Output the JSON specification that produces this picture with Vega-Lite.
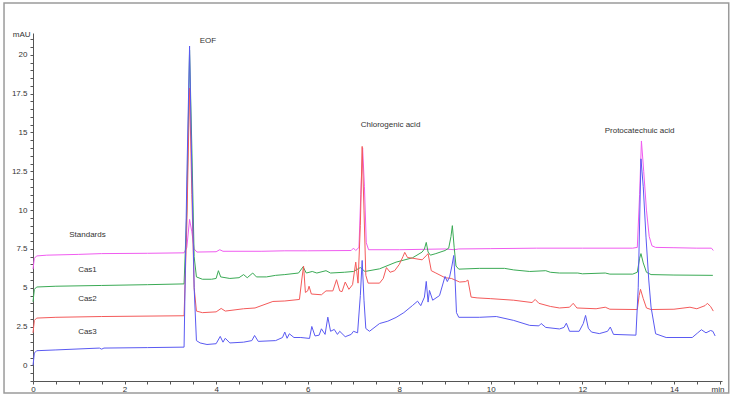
{
"$schema": "https://vega.github.io/schema/vega-lite/v6.json",
"width": 689, "height": 348,
"autosize": {"type": "none"},
"padding": {"left": 33, "top": 33, "right": 15, "bottom": 18},
"background": "white",
"config": {"view": {"stroke": null}, "font": "Liberation Sans"},
"datasets": {
"frame": [{"t": -0.633, "t2": 15.197, "v": -1.77, "v2": 23.33}],
"labels": [
{"txt": "EOF", "t": 3.82, "v": 20.9},
{"txt": "Chlorogenic acid", "t": 7.81, "v": 15.46},
{"txt": "Protocatechuic acid", "t": 13.25, "v": 15.09},
{"txt": "Standards", "t": 1.19, "v": 8.42},
{"txt": "Cas1", "t": 1.19, "v": 6.15},
{"txt": "Cas2", "t": 1.19, "v": 4.26},
{"txt": "Cas3", "t": 1.19, "v": 2.14}
],
"traces": [
{"s":"Standards","t":0,"v":6.2},{"s":"Standards","t":0.03,"v":6.9},{"s":"Standards","t":0.08,"v":7.05},{"s":"Standards","t":0.3,"v":7.1},{"s":"Standards","t":1,"v":7.15},{"s":"Standards","t":1.5,"v":7.2},{"s":"Standards","t":2.5,"v":7.22},{"s":"Standards","t":3.3,"v":7.25},{"s":"Standards","t":3.36,"v":7.6},{"s":"Standards","t":3.42,"v":9.4},{"s":"Standards","t":3.47,"v":8.6},{"s":"Standards","t":3.52,"v":7.5},{"s":"Standards","t":3.58,"v":7.3},{"s":"Standards","t":4.0,"v":7.32},{"s":"Standards","t":4.08,"v":7.45},{"s":"Standards","t":4.15,"v":7.35},{"s":"Standards","t":5.0,"v":7.35},{"s":"Standards","t":5.5,"v":7.38},{"s":"Standards","t":6.0,"v":7.38},{"s":"Standards","t":6.95,"v":7.4},{"s":"Standards","t":7.0,"v":7.55},{"s":"Standards","t":7.05,"v":7.4},{"s":"Standards","t":7.12,"v":7.6},{"s":"Standards","t":7.16,"v":11},{"s":"Standards","t":7.2,"v":14.0},{"s":"Standards","t":7.24,"v":11.5},{"s":"Standards","t":7.28,"v":7.9},{"s":"Standards","t":7.33,"v":7.45},{"s":"Standards","t":8.0,"v":7.45},{"s":"Standards","t":9.0,"v":7.5},{"s":"Standards","t":9.2,"v":7.45},{"s":"Standards","t":9.3,"v":7.5},{"s":"Standards","t":10,"v":7.52},{"s":"Standards","t":11,"v":7.55},{"s":"Standards","t":12,"v":7.55},{"s":"Standards","t":13.1,"v":7.55},{"s":"Standards","t":13.2,"v":7.6},{"s":"Standards","t":13.25,"v":11},{"s":"Standards","t":13.29,"v":14.45},{"s":"Standards","t":13.34,"v":12.5},{"s":"Standards","t":13.4,"v":10},{"s":"Standards","t":13.46,"v":8.3},{"s":"Standards","t":13.52,"v":7.7},{"s":"Standards","t":13.6,"v":7.6},{"s":"Standards","t":14,"v":7.58},{"s":"Standards","t":14.5,"v":7.55},{"s":"Standards","t":14.82,"v":7.55},{"s":"Standards","t":14.86,"v":7.4},

{"s":"Cas1","t":0,"v":4.1},{"s":"Cas1","t":0.03,"v":4.9},{"s":"Cas1","t":0.08,"v":5.05},{"s":"Cas1","t":0.5,"v":5.1},{"s":"Cas1","t":1.5,"v":5.15},{"s":"Cas1","t":2.5,"v":5.2},{"s":"Cas1","t":3.3,"v":5.25},{"s":"Cas1","t":3.36,"v":10},{"s":"Cas1","t":3.42,"v":20.3},{"s":"Cas1","t":3.47,"v":14},{"s":"Cas1","t":3.52,"v":7},{"s":"Cas1","t":3.57,"v":5.7},{"s":"Cas1","t":3.7,"v":5.55},{"s":"Cas1","t":3.9,"v":5.55},{"s":"Cas1","t":4.0,"v":5.6},{"s":"Cas1","t":4.05,"v":6.1},{"s":"Cas1","t":4.1,"v":5.7},{"s":"Cas1","t":4.3,"v":5.6},{"s":"Cas1","t":4.5,"v":5.65},{"s":"Cas1","t":4.6,"v":5.85},{"s":"Cas1","t":4.68,"v":5.65},{"s":"Cas1","t":4.8,"v":5.95},{"s":"Cas1","t":4.88,"v":5.7},{"s":"Cas1","t":5.1,"v":5.7},{"s":"Cas1","t":5.3,"v":5.8},{"s":"Cas1","t":5.5,"v":5.85},{"s":"Cas1","t":5.8,"v":5.95},{"s":"Cas1","t":5.9,"v":6.35},{"s":"Cas1","t":5.97,"v":5.95},{"s":"Cas1","t":6.1,"v":6.05},{"s":"Cas1","t":6.2,"v":5.95},{"s":"Cas1","t":6.4,"v":6.1},{"s":"Cas1","t":6.5,"v":5.95},{"s":"Cas1","t":6.8,"v":6.0},{"s":"Cas1","t":7.0,"v":6.05},{"s":"Cas1","t":7.15,"v":6.3},{"s":"Cas1","t":7.25,"v":6.05},{"s":"Cas1","t":7.57,"v":6.22},{"s":"Cas1","t":7.93,"v":6.65},{"s":"Cas1","t":8.29,"v":6.93},{"s":"Cas1","t":8.5,"v":7.3},{"s":"Cas1","t":8.55,"v":7.5},{"s":"Cas1","t":8.59,"v":7.92},{"s":"Cas1","t":8.63,"v":7.3},{"s":"Cas1","t":8.68,"v":7.1},{"s":"Cas1","t":8.8,"v":7.2},{"s":"Cas1","t":9.0,"v":7.4},{"s":"Cas1","t":9.08,"v":7.55},{"s":"Cas1","t":9.13,"v":8.3},{"s":"Cas1","t":9.16,"v":9.0},{"s":"Cas1","t":9.2,"v":7.6},{"s":"Cas1","t":9.24,"v":6.4},{"s":"Cas1","t":9.3,"v":6.2},{"s":"Cas1","t":9.75,"v":6.25},{"s":"Cas1","t":10.3,"v":6.25},{"s":"Cas1","t":10.5,"v":6.15},{"s":"Cas1","t":10.85,"v":6.05},{"s":"Cas1","t":11.2,"v":6.1},{"s":"Cas1","t":11.3,"v":6.0},{"s":"Cas1","t":11.5,"v":5.95},{"s":"Cas1","t":11.9,"v":5.95},{"s":"Cas1","t":12.0,"v":5.9},{"s":"Cas1","t":12.5,"v":5.95},{"s":"Cas1","t":12.6,"v":5.88},{"s":"Cas1","t":13.1,"v":5.88},{"s":"Cas1","t":13.2,"v":6.0},{"s":"Cas1","t":13.25,"v":6.9},{"s":"Cas1","t":13.28,"v":7.2},{"s":"Cas1","t":13.33,"v":6.6},{"s":"Cas1","t":13.4,"v":6.0},{"s":"Cas1","t":13.5,"v":5.85},{"s":"Cas1","t":14,"v":5.82},{"s":"Cas1","t":14.85,"v":5.8},

{"s":"Cas2","t":0,"v":2.1},{"s":"Cas2","t":0.03,"v":2.9},{"s":"Cas2","t":0.08,"v":3.05},{"s":"Cas2","t":0.5,"v":3.1},{"s":"Cas2","t":1.5,"v":3.15},{"s":"Cas2","t":3.3,"v":3.2},{"s":"Cas2","t":3.36,"v":9},{"s":"Cas2","t":3.42,"v":17.86},{"s":"Cas2","t":3.47,"v":11},{"s":"Cas2","t":3.52,"v":5},{"s":"Cas2","t":3.57,"v":3.5},{"s":"Cas2","t":3.7,"v":3.4},{"s":"Cas2","t":4.0,"v":3.45},{"s":"Cas2","t":4.11,"v":3.67},{"s":"Cas2","t":4.2,"v":3.5},{"s":"Cas2","t":4.6,"v":3.65},{"s":"Cas2","t":4.85,"v":3.7},{"s":"Cas2","t":5.24,"v":4.12},{"s":"Cas2","t":5.5,"v":4.15},{"s":"Cas2","t":5.82,"v":4.25},{"s":"Cas2","t":5.87,"v":5.5},{"s":"Cas2","t":5.91,"v":6.4},{"s":"Cas2","t":5.95,"v":4.7},{"s":"Cas2","t":6.0,"v":4.8},{"s":"Cas2","t":6.03,"v":5.1},{"s":"Cas2","t":6.08,"v":4.6},{"s":"Cas2","t":6.3,"v":4.55},{"s":"Cas2","t":6.4,"v":4.8},{"s":"Cas2","t":6.55,"v":4.8},{"s":"Cas2","t":6.63,"v":5.52},{"s":"Cas2","t":6.7,"v":4.8},{"s":"Cas2","t":6.75,"v":4.75},{"s":"Cas2","t":6.82,"v":5.37},{"s":"Cas2","t":6.9,"v":4.9},{"s":"Cas2","t":6.98,"v":5.2},{"s":"Cas2","t":7.05,"v":6.65},{"s":"Cas2","t":7.1,"v":5.3},{"s":"Cas2","t":7.15,"v":9},{"s":"Cas2","t":7.19,"v":14.1},{"s":"Cas2","t":7.23,"v":10},{"s":"Cas2","t":7.27,"v":5.8},{"s":"Cas2","t":7.32,"v":5.3},{"s":"Cas2","t":7.57,"v":5.3},{"s":"Cas2","t":7.65,"v":5.6},{"s":"Cas2","t":7.72,"v":6.3},{"s":"Cas2","t":7.8,"v":6.0},{"s":"Cas2","t":7.9,"v":6.1},{"s":"Cas2","t":8.0,"v":6.5},{"s":"Cas2","t":8.08,"v":7.0},{"s":"Cas2","t":8.12,"v":7.28},{"s":"Cas2","t":8.18,"v":6.95},{"s":"Cas2","t":8.3,"v":6.9},{"s":"Cas2","t":8.5,"v":6.8},{"s":"Cas2","t":8.6,"v":7.1},{"s":"Cas2","t":8.63,"v":7.2},{"s":"Cas2","t":8.7,"v":6.1},{"s":"Cas2","t":8.8,"v":5.95},{"s":"Cas2","t":9.0,"v":5.65},{"s":"Cas2","t":9.14,"v":5.6},{"s":"Cas2","t":9.32,"v":5.37},{"s":"Cas2","t":9.45,"v":5.4},{"s":"Cas2","t":9.5,"v":5.5},{"s":"Cas2","t":9.57,"v":4.4},{"s":"Cas2","t":9.7,"v":4.35},{"s":"Cas2","t":10,"v":4.3},{"s":"Cas2","t":10.5,"v":4.2},{"s":"Cas2","t":10.9,"v":4.05},{"s":"Cas2","t":10.97,"v":4.25},{"s":"Cas2","t":11.05,"v":4.0},{"s":"Cas2","t":11.3,"v":3.8},{"s":"Cas2","t":11.5,"v":3.7},{"s":"Cas2","t":11.72,"v":3.75},{"s":"Cas2","t":11.8,"v":4.0},{"s":"Cas2","t":11.88,"v":3.7},{"s":"Cas2","t":12.3,"v":3.65},{"s":"Cas2","t":12.5,"v":3.75},{"s":"Cas2","t":12.6,"v":3.62},{"s":"Cas2","t":13.2,"v":3.6},{"s":"Cas2","t":13.24,"v":4.5},{"s":"Cas2","t":13.27,"v":4.9},{"s":"Cas2","t":13.33,"v":4.3},{"s":"Cas2","t":13.4,"v":3.7},{"s":"Cas2","t":13.5,"v":3.6},{"s":"Cas2","t":14.0,"v":3.62},{"s":"Cas2","t":14.35,"v":3.75},{"s":"Cas2","t":14.5,"v":3.65},{"s":"Cas2","t":14.68,"v":3.85},{"s":"Cas2","t":14.73,"v":4.0},{"s":"Cas2","t":14.8,"v":3.8},{"s":"Cas2","t":14.86,"v":3.5},

{"s":"Cas3","t":0,"v":0.0},{"s":"Cas3","t":0.03,"v":0.8},{"s":"Cas3","t":0.08,"v":0.95},{"s":"Cas3","t":0.5,"v":1.0},{"s":"Cas3","t":1.45,"v":1.12},{"s":"Cas3","t":1.5,"v":1.05},{"s":"Cas3","t":1.55,"v":1.12},{"s":"Cas3","t":2.5,"v":1.15},{"s":"Cas3","t":3.3,"v":1.18},{"s":"Cas3","t":3.36,"v":12},{"s":"Cas3","t":3.42,"v":20.56},{"s":"Cas3","t":3.46,"v":14},{"s":"Cas3","t":3.52,"v":5},{"s":"Cas3","t":3.57,"v":1.6},{"s":"Cas3","t":3.65,"v":1.45},{"s":"Cas3","t":3.8,"v":1.35},{"s":"Cas3","t":4.0,"v":1.4},{"s":"Cas3","t":4.09,"v":1.87},{"s":"Cas3","t":4.15,"v":1.5},{"s":"Cas3","t":4.2,"v":1.75},{"s":"Cas3","t":4.3,"v":1.45},{"s":"Cas3","t":4.6,"v":1.5},{"s":"Cas3","t":4.78,"v":1.6},{"s":"Cas3","t":4.84,"v":1.93},{"s":"Cas3","t":4.92,"v":1.55},{"s":"Cas3","t":5.3,"v":1.6},{"s":"Cas3","t":5.45,"v":1.8},{"s":"Cas3","t":5.5,"v":2.15},{"s":"Cas3","t":5.55,"v":1.75},{"s":"Cas3","t":5.6,"v":2.04},{"s":"Cas3","t":5.7,"v":1.8},{"s":"Cas3","t":5.85,"v":1.8},{"s":"Cas3","t":6.04,"v":1.74},{"s":"Cas3","t":6.09,"v":2.51},{"s":"Cas3","t":6.16,"v":1.9},{"s":"Cas3","t":6.25,"v":1.95},{"s":"Cas3","t":6.3,"v":2.36},{"s":"Cas3","t":6.38,"v":2.0},{"s":"Cas3","t":6.44,"v":3.11},{"s":"Cas3","t":6.5,"v":2.2},{"s":"Cas3","t":6.58,"v":2.32},{"s":"Cas3","t":6.65,"v":2.0},{"s":"Cas3","t":6.7,"v":2.2},{"s":"Cas3","t":6.82,"v":1.85},{"s":"Cas3","t":6.95,"v":2.0},{"s":"Cas3","t":7.0,"v":2.2},{"s":"Cas3","t":7.09,"v":2.1},{"s":"Cas3","t":7.15,"v":4.5},{"s":"Cas3","t":7.19,"v":6.76},{"s":"Cas3","t":7.23,"v":4.2},{"s":"Cas3","t":7.27,"v":2.38},{"s":"Cas3","t":7.35,"v":2.2},{"s":"Cas3","t":7.57,"v":2.7},{"s":"Cas3","t":7.75,"v":2.85},{"s":"Cas3","t":7.93,"v":3.09},{"s":"Cas3","t":8.1,"v":3.4},{"s":"Cas3","t":8.29,"v":3.86},{"s":"Cas3","t":8.4,"v":4.14},{"s":"Cas3","t":8.47,"v":3.85},{"s":"Cas3","t":8.55,"v":4.4},{"s":"Cas3","t":8.59,"v":5.41},{"s":"Cas3","t":8.63,"v":4.08},{"s":"Cas3","t":8.66,"v":4.83},{"s":"Cas3","t":8.73,"v":4.2},{"s":"Cas3","t":8.88,"v":4.5},{"s":"Cas3","t":9.0,"v":5.73},{"s":"Cas3","t":9.05,"v":5.4},{"s":"Cas3","t":9.1,"v":5.7},{"s":"Cas3","t":9.15,"v":6.4},{"s":"Cas3","t":9.19,"v":7.08},{"s":"Cas3","t":9.22,"v":5.5},{"s":"Cas3","t":9.25,"v":3.4},{"s":"Cas3","t":9.3,"v":3.1},{"s":"Cas3","t":9.75,"v":3.1},{"s":"Cas3","t":10.12,"v":3.15},{"s":"Cas3","t":10.5,"v":2.9},{"s":"Cas3","t":10.85,"v":2.58},{"s":"Cas3","t":11.05,"v":2.55},{"s":"Cas3","t":11.1,"v":2.7},{"s":"Cas3","t":11.2,"v":2.45},{"s":"Cas3","t":11.5,"v":2.35},{"s":"Cas3","t":11.6,"v":2.45},{"s":"Cas3","t":11.65,"v":2.72},{"s":"Cas3","t":11.72,"v":2.2},{"s":"Cas3","t":11.93,"v":2.2},{"s":"Cas3","t":12.02,"v":2.7},{"s":"Cas3","t":12.07,"v":3.22},{"s":"Cas3","t":12.13,"v":2.4},{"s":"Cas3","t":12.2,"v":2.15},{"s":"Cas3","t":12.37,"v":2.05},{"s":"Cas3","t":12.55,"v":2.2},{"s":"Cas3","t":12.61,"v":2.47},{"s":"Cas3","t":12.68,"v":2.0},{"s":"Cas3","t":13.17,"v":1.95},{"s":"Cas3","t":13.22,"v":5},{"s":"Cas3","t":13.28,"v":13.3},{"s":"Cas3","t":13.33,"v":11.5},{"s":"Cas3","t":13.39,"v":8.26},{"s":"Cas3","t":13.45,"v":5.5},{"s":"Cas3","t":13.5,"v":3.76},{"s":"Cas3","t":13.6,"v":2.04},{"s":"Cas3","t":13.83,"v":1.8},{"s":"Cas3","t":14.4,"v":1.8},{"s":"Cas3","t":14.52,"v":2.1},{"s":"Cas3","t":14.6,"v":2.3},{"s":"Cas3","t":14.7,"v":2.1},{"s":"Cas3","t":14.8,"v":2.25},{"s":"Cas3","t":14.85,"v":2.2},{"s":"Cas3","t":14.9,"v":1.9}
]
},
"encoding": {
"x": {"field": "t", "type": "quantitative", "title": "min",
"scale": {"domain": [0, 15.05], "nice": false, "zero": false},
"axis": {"values": [0,0.5,1,1.5,2,2.5,3,3.5,4,4.5,5,5.5,6,6.5,7,7.5,8,8.5,9,9.5,10,10.5,11,11.5,12,12.5,13,13.5,14,14.5,15],
"format": "~g", "labelExpr": "datum.value % 2 == 0 && datum.value <= 14 ? datum.label : ''",
"grid": false, "tickSize": 3, "labelPadding": 1, "labelFlush": false, "labelFontSize": 8, "labelColor": "#333",
"domainColor": "#555", "tickColor": "#555",
"titleFontSize": 8, "titleFontWeight": "normal", "titleColor": "#333",
"titleX": 691, "titleY": 8, "titleAlign": "right", "titleBaseline": "middle"}},
"y": {"field": "v", "type": "quantitative", "title": "mAU",
"scale": {"domain": [-1, 21.4], "nice": false, "zero": false},
"axis": {"values": [-1,-0.5,0,0.5,1,1.5,2,2.5,3,3.5,4,4.5,5,5.5,6,6.5,7,7.5,8,8.5,9,9.5,10,10.5,11,11.5,12,12.5,13,13.5,14,14.5,15,15.5,16,16.5,17,17.5,18,18.5,19,19.5,20,20.5,21],
"format": "~g", "labelExpr": "datum.value % 2.5 == 0 ? datum.label : ''",
"grid": false, "tickSize": 3, "labelPadding": 3, "labelFontSize": 8, "labelColor": "#333",
"domainColor": "#555", "tickColor": "#555",
"titleFontSize": 8, "titleFontWeight": "normal", "titleColor": "#333", "titleAngle": 0,
"titleX": -3, "titleY": 1, "titleAlign": "right", "titleBaseline": "middle"}}
},
"layer": [
{
"data": {"name": "frame"},
"mark": {"type": "rect", "filled": false, "stroke": "#9a9a9a", "strokeWidth": 1.5, "clip": false},
"encoding": {"x2": {"field": "t2"}, "y2": {"field": "v2"}}
},
{
"data": {"name": "traces"},
"mark": {"type": "line", "strokeWidth": 1, "clip": false},
"encoding": {
"color": {"field": "s", "type": "nominal", "legend": null,
"scale": {"domain": ["Standards", "Cas1", "Cas2", "Cas3"], "range": ["#f05cf0", "#3aaa55", "#f45a5a", "#5a5af2"]}}
}
},
{
"data": {"name": "labels"},
"mark": {"type": "text", "fontSize": 8, "color": "#333", "align": "center", "baseline": "middle", "clip": false},
"encoding": {"text": {"field": "txt"}}
}
]
}
